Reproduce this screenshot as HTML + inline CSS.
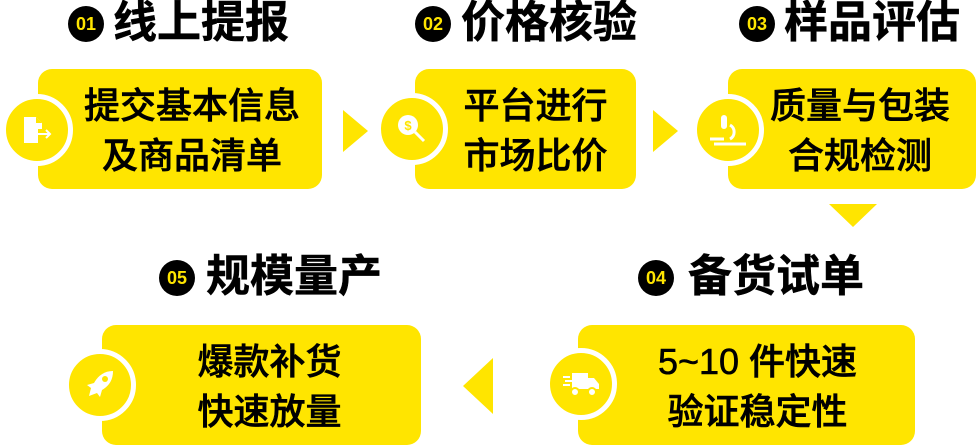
<!DOCTYPE html>
<html><head><meta charset="utf-8"><style>
body{margin:0;width:976px;height:447px;background:#fff;position:relative;overflow:hidden;font-family:"Liberation Sans","Noto Sans CJK SC",sans-serif}
.box{position:absolute;background:#FFE500;border-radius:14px;height:120px;display:flex;align-items:center;justify-content:center;text-align:center;font-size:36px;font-weight:500;line-height:50px;color:#000;-webkit-text-stroke:0.6px #000;padding-top:4px}
.c{position:absolute;width:62px;height:62px;border-radius:50%;background:#FFE500;border:5px solid #fff;margin:-36px 0 0 -36px;display:flex;align-items:center;justify-content:center}
.t{position:absolute;font-size:44px;font-weight:bold;line-height:46px;color:#000;white-space:nowrap;-webkit-text-stroke:0.5px #000}
.b{position:absolute;width:36px;height:36px;border-radius:50%;background:#000;color:#FFE500;font-size:18px;font-weight:bold;line-height:36px;text-align:center;margin:-18px 0 0 -18px;font-family:"Liberation Sans",sans-serif}
.tri{position:absolute;width:0;height:0}
</style></head><body>
<div class="b" style="left:86px;top:24px">01</div><div class="t" style="left:113px;top:0px">线上提报</div>
<div class="b" style="left:433px;top:24px">02</div><div class="t" style="left:461px;top:0px">价格核验</div>
<div class="b" style="left:757px;top:24px">03</div><div class="t" style="left:784px;top:0px">样品评估</div>
<div class="b" style="left:656px;top:278px">04</div><div class="t" style="left:688px;top:254px">备货试单</div>
<div class="b" style="left:177px;top:278px">05</div><div class="t" style="left:206px;top:254px">规模量产</div>

<div class="box" style="left:38px;top:69px;width:284px;padding-left:24px;box-sizing:border-box">提交基本信息<br>及商品清单</div>
<div class="box" style="left:415px;top:69px;width:221px;padding-left:20px;box-sizing:border-box">平台进行<br>市场比价</div>
<div class="box" style="left:728px;top:69px;width:248px;padding-left:16px;box-sizing:border-box">质量与包装<br>合规检测</div>
<div class="box" style="left:578px;top:325px;width:337px;padding-left:22px;box-sizing:border-box">5~10 件快速<br>验证稳定性</div>
<div class="box" style="left:102px;top:325px;width:319px;padding-left:16px;box-sizing:border-box">爆款补货<br>快速放量</div>

<div class="c" style="left:37px;top:130px"><svg width="34" height="34" viewBox="0 0 34 34"><path d="M4 4h12l6 6v6H4z M4 16h14v14H4z" fill="#fff"/><path d="M16 4v6h6" fill="#FFE500"/><path d="M12 21h18m-4-4l4 4-4 4" stroke="#fff" stroke-width="2" fill="none"/></svg></div>
<div class="c" style="left:412px;top:129px"><svg width="34" height="34" viewBox="0 0 34 34"><circle cx="13" cy="13" r="10" fill="#fff"/><text x="13" y="18" font-size="13" font-weight="bold" text-anchor="middle" fill="#FFE500" font-family="Liberation Sans">$</text><path d="M20 20l9 9" stroke="#fff" stroke-width="3"/></svg></div>
<div class="c" style="left:728px;top:130px"><svg width="40" height="34" viewBox="0 0 40 34"><rect x="13" y="2" width="6" height="14" rx="3" fill="#fff"/><path d="M22 12a8 8 0 0 1 0 14" stroke="#fff" stroke-width="3" fill="none"/><path d="M2 26h14M6 31h32" stroke="#fff" stroke-width="3"/></svg></div>
<div class="c" style="left:581px;top:384px"><svg width="38" height="30" viewBox="0 0 38 30"><path d="M10 4h16v16H10zM26 9h6l5 6v5H26z" fill="#fff"/><path d="M1 8h7M3 12h7M1 16h7" stroke="#fff" stroke-width="2"/><circle cx="13" cy="23" r="4" fill="#fff" stroke="#FFE500" stroke-width="2"/><circle cx="30" cy="23" r="4" fill="#fff" stroke="#FFE500" stroke-width="2"/></svg></div>
<div class="c" style="left:100px;top:385px"><svg width="34" height="34" viewBox="0 0 34 34"><path d="M30 3c-9 0-15 5-19 12l-7 2 4 3-2 8 8-3 3 4 2-7c7-4 11-10 11-19z" fill="#fff"/><circle cx="22" cy="11" r="3" fill="#FFE500"/></svg></div>

<div class="tri" style="left:343px;top:110px;border-left:25px solid #FFE500;border-top:21px solid transparent;border-bottom:21px solid transparent"></div>
<div class="tri" style="left:653px;top:110px;border-left:25px solid #FFE500;border-top:21px solid transparent;border-bottom:21px solid transparent"></div>
<div class="tri" style="left:829px;top:204px;border-top:23px solid #FFE500;border-left:24px solid transparent;border-right:24px solid transparent"></div>
<div class="tri" style="left:463px;top:358px;border-right:30px solid #FFE500;border-top:28px solid transparent;border-bottom:28px solid transparent"></div>
</body></html>
